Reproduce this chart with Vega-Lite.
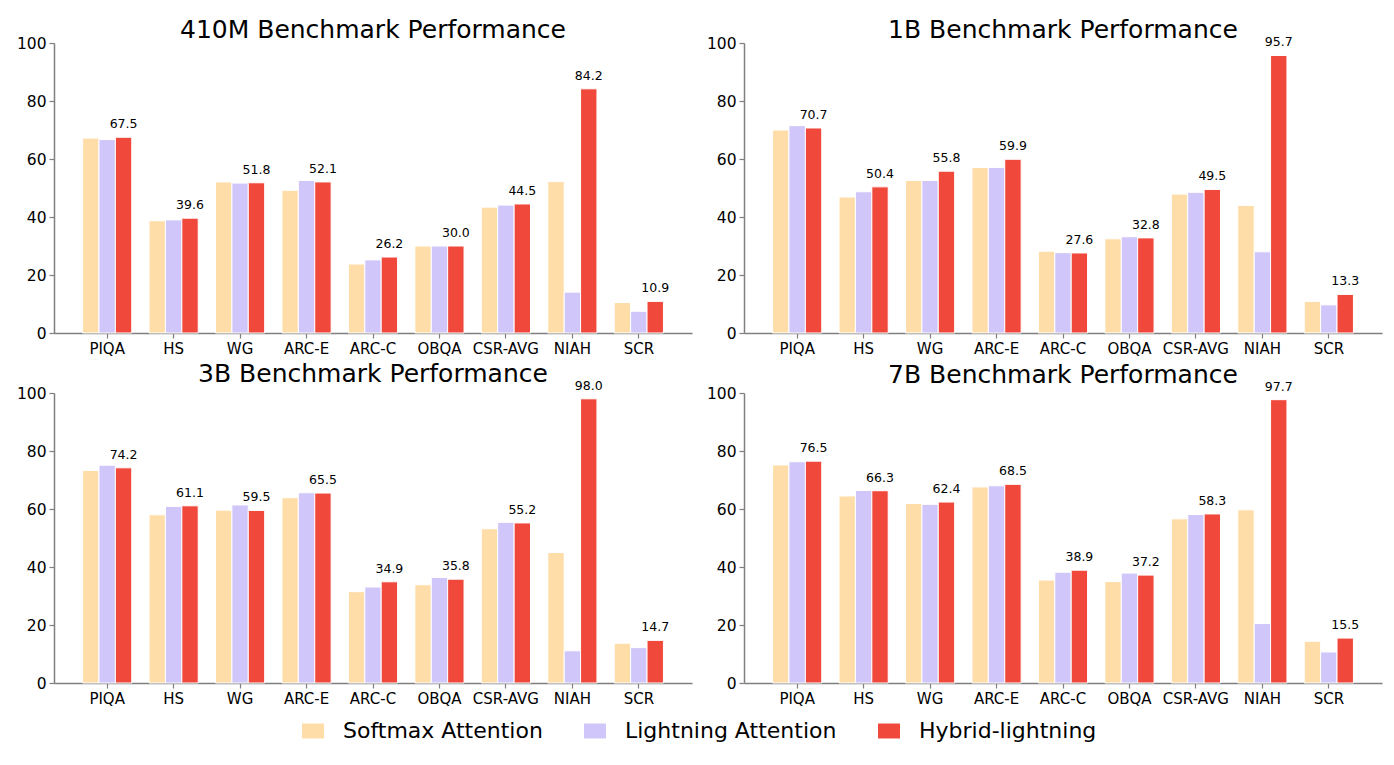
{
  "$schema": "https://vega.github.io/schema/vega-lite/v6.json",
  "background": "white",
  "padding": {"left": 16, "top": 18, "right": 10, "bottom": 10},
  "config": {
    "font": "DejaVu Sans",
    "view": {"stroke": null},
    "axis": {
      "grid": false,
      "title": null,
      "domainColor": "#7f7f7f",
      "domainWidth": 1.5,
      "tickColor": "#7f7f7f",
      "tickWidth": 1.2,
      "tickSize": 5,
      "labelColor": "black",
      "labelPadding": 3
    }
  },
  "data": {
    "values": [
      {"model": "410M", "bench": "PIQA", "series": "Softmax Attention", "value": 67.2},
      {"model": "410M", "bench": "PIQA", "series": "Lightning Attention", "value": 66.7},
      {"model": "410M", "bench": "PIQA", "series": "Hybrid-lightning", "value": 67.5},
      {"model": "410M", "bench": "HS", "series": "Softmax Attention", "value": 38.7},
      {"model": "410M", "bench": "HS", "series": "Lightning Attention", "value": 39.0},
      {"model": "410M", "bench": "HS", "series": "Hybrid-lightning", "value": 39.6},
      {"model": "410M", "bench": "WG", "series": "Softmax Attention", "value": 52.1},
      {"model": "410M", "bench": "WG", "series": "Lightning Attention", "value": 51.7},
      {"model": "410M", "bench": "WG", "series": "Hybrid-lightning", "value": 51.8},
      {"model": "410M", "bench": "ARC-E", "series": "Softmax Attention", "value": 49.2},
      {"model": "410M", "bench": "ARC-E", "series": "Lightning Attention", "value": 52.6},
      {"model": "410M", "bench": "ARC-E", "series": "Hybrid-lightning", "value": 52.1},
      {"model": "410M", "bench": "ARC-C", "series": "Softmax Attention", "value": 23.8},
      {"model": "410M", "bench": "ARC-C", "series": "Lightning Attention", "value": 25.2},
      {"model": "410M", "bench": "ARC-C", "series": "Hybrid-lightning", "value": 26.2},
      {"model": "410M", "bench": "OBQA", "series": "Softmax Attention", "value": 30.0},
      {"model": "410M", "bench": "OBQA", "series": "Lightning Attention", "value": 30.0},
      {"model": "410M", "bench": "OBQA", "series": "Hybrid-lightning", "value": 30.0},
      {"model": "410M", "bench": "CSR-AVG", "series": "Softmax Attention", "value": 43.4},
      {"model": "410M", "bench": "CSR-AVG", "series": "Lightning Attention", "value": 44.1},
      {"model": "410M", "bench": "CSR-AVG", "series": "Hybrid-lightning", "value": 44.5},
      {"model": "410M", "bench": "NIAH", "series": "Softmax Attention", "value": 52.2},
      {"model": "410M", "bench": "NIAH", "series": "Lightning Attention", "value": 14.1},
      {"model": "410M", "bench": "NIAH", "series": "Hybrid-lightning", "value": 84.2},
      {"model": "410M", "bench": "SCR", "series": "Softmax Attention", "value": 10.5},
      {"model": "410M", "bench": "SCR", "series": "Lightning Attention", "value": 7.5},
      {"model": "410M", "bench": "SCR", "series": "Hybrid-lightning", "value": 10.9},

      {"model": "1B", "bench": "PIQA", "series": "Softmax Attention", "value": 70.0},
      {"model": "1B", "bench": "PIQA", "series": "Lightning Attention", "value": 71.5},
      {"model": "1B", "bench": "PIQA", "series": "Hybrid-lightning", "value": 70.7},
      {"model": "1B", "bench": "HS", "series": "Softmax Attention", "value": 46.9},
      {"model": "1B", "bench": "HS", "series": "Lightning Attention", "value": 48.7},
      {"model": "1B", "bench": "HS", "series": "Hybrid-lightning", "value": 50.4},
      {"model": "1B", "bench": "WG", "series": "Softmax Attention", "value": 52.6},
      {"model": "1B", "bench": "WG", "series": "Lightning Attention", "value": 52.6},
      {"model": "1B", "bench": "WG", "series": "Hybrid-lightning", "value": 55.8},
      {"model": "1B", "bench": "ARC-E", "series": "Softmax Attention", "value": 57.1},
      {"model": "1B", "bench": "ARC-E", "series": "Lightning Attention", "value": 57.1},
      {"model": "1B", "bench": "ARC-E", "series": "Hybrid-lightning", "value": 59.9},
      {"model": "1B", "bench": "ARC-C", "series": "Softmax Attention", "value": 28.2},
      {"model": "1B", "bench": "ARC-C", "series": "Lightning Attention", "value": 27.7},
      {"model": "1B", "bench": "ARC-C", "series": "Hybrid-lightning", "value": 27.6},
      {"model": "1B", "bench": "OBQA", "series": "Softmax Attention", "value": 32.5},
      {"model": "1B", "bench": "OBQA", "series": "Lightning Attention", "value": 33.2},
      {"model": "1B", "bench": "OBQA", "series": "Hybrid-lightning", "value": 32.8},
      {"model": "1B", "bench": "CSR-AVG", "series": "Softmax Attention", "value": 47.9},
      {"model": "1B", "bench": "CSR-AVG", "series": "Lightning Attention", "value": 48.5},
      {"model": "1B", "bench": "CSR-AVG", "series": "Hybrid-lightning", "value": 49.5},
      {"model": "1B", "bench": "NIAH", "series": "Softmax Attention", "value": 44.0},
      {"model": "1B", "bench": "NIAH", "series": "Lightning Attention", "value": 28.0},
      {"model": "1B", "bench": "NIAH", "series": "Hybrid-lightning", "value": 95.7},
      {"model": "1B", "bench": "SCR", "series": "Softmax Attention", "value": 10.9},
      {"model": "1B", "bench": "SCR", "series": "Lightning Attention", "value": 9.7},
      {"model": "1B", "bench": "SCR", "series": "Hybrid-lightning", "value": 13.3},

      {"model": "3B", "bench": "PIQA", "series": "Softmax Attention", "value": 73.3},
      {"model": "3B", "bench": "PIQA", "series": "Lightning Attention", "value": 75.1},
      {"model": "3B", "bench": "PIQA", "series": "Hybrid-lightning", "value": 74.2},
      {"model": "3B", "bench": "HS", "series": "Softmax Attention", "value": 58.0},
      {"model": "3B", "bench": "HS", "series": "Lightning Attention", "value": 60.9},
      {"model": "3B", "bench": "HS", "series": "Hybrid-lightning", "value": 61.1},
      {"model": "3B", "bench": "WG", "series": "Softmax Attention", "value": 59.6},
      {"model": "3B", "bench": "WG", "series": "Lightning Attention", "value": 61.4},
      {"model": "3B", "bench": "WG", "series": "Hybrid-lightning", "value": 59.5},
      {"model": "3B", "bench": "ARC-E", "series": "Softmax Attention", "value": 63.9},
      {"model": "3B", "bench": "ARC-E", "series": "Lightning Attention", "value": 65.6},
      {"model": "3B", "bench": "ARC-E", "series": "Hybrid-lightning", "value": 65.5},
      {"model": "3B", "bench": "ARC-C", "series": "Softmax Attention", "value": 31.5},
      {"model": "3B", "bench": "ARC-C", "series": "Lightning Attention", "value": 33.1},
      {"model": "3B", "bench": "ARC-C", "series": "Hybrid-lightning", "value": 34.9},
      {"model": "3B", "bench": "OBQA", "series": "Softmax Attention", "value": 33.9},
      {"model": "3B", "bench": "OBQA", "series": "Lightning Attention", "value": 36.4},
      {"model": "3B", "bench": "OBQA", "series": "Hybrid-lightning", "value": 35.8},
      {"model": "3B", "bench": "CSR-AVG", "series": "Softmax Attention", "value": 53.2},
      {"model": "3B", "bench": "CSR-AVG", "series": "Lightning Attention", "value": 55.4},
      {"model": "3B", "bench": "CSR-AVG", "series": "Hybrid-lightning", "value": 55.2},
      {"model": "3B", "bench": "NIAH", "series": "Softmax Attention", "value": 45.0},
      {"model": "3B", "bench": "NIAH", "series": "Lightning Attention", "value": 11.1},
      {"model": "3B", "bench": "NIAH", "series": "Hybrid-lightning", "value": 98.0},
      {"model": "3B", "bench": "SCR", "series": "Softmax Attention", "value": 13.7},
      {"model": "3B", "bench": "SCR", "series": "Lightning Attention", "value": 12.2},
      {"model": "3B", "bench": "SCR", "series": "Hybrid-lightning", "value": 14.7},

      {"model": "7B", "bench": "PIQA", "series": "Softmax Attention", "value": 75.2},
      {"model": "7B", "bench": "PIQA", "series": "Lightning Attention", "value": 76.3},
      {"model": "7B", "bench": "PIQA", "series": "Hybrid-lightning", "value": 76.5},
      {"model": "7B", "bench": "HS", "series": "Softmax Attention", "value": 64.5},
      {"model": "7B", "bench": "HS", "series": "Lightning Attention", "value": 66.4},
      {"model": "7B", "bench": "HS", "series": "Hybrid-lightning", "value": 66.3},
      {"model": "7B", "bench": "WG", "series": "Softmax Attention", "value": 61.9},
      {"model": "7B", "bench": "WG", "series": "Lightning Attention", "value": 61.6},
      {"model": "7B", "bench": "WG", "series": "Hybrid-lightning", "value": 62.4},
      {"model": "7B", "bench": "ARC-E", "series": "Softmax Attention", "value": 67.6},
      {"model": "7B", "bench": "ARC-E", "series": "Lightning Attention", "value": 68.0},
      {"model": "7B", "bench": "ARC-E", "series": "Hybrid-lightning", "value": 68.5},
      {"model": "7B", "bench": "ARC-C", "series": "Softmax Attention", "value": 35.5},
      {"model": "7B", "bench": "ARC-C", "series": "Lightning Attention", "value": 38.2},
      {"model": "7B", "bench": "ARC-C", "series": "Hybrid-lightning", "value": 38.9},
      {"model": "7B", "bench": "OBQA", "series": "Softmax Attention", "value": 35.0},
      {"model": "7B", "bench": "OBQA", "series": "Lightning Attention", "value": 37.9},
      {"model": "7B", "bench": "OBQA", "series": "Hybrid-lightning", "value": 37.2},
      {"model": "7B", "bench": "CSR-AVG", "series": "Softmax Attention", "value": 56.6},
      {"model": "7B", "bench": "CSR-AVG", "series": "Lightning Attention", "value": 58.1},
      {"model": "7B", "bench": "CSR-AVG", "series": "Hybrid-lightning", "value": 58.3},
      {"model": "7B", "bench": "NIAH", "series": "Softmax Attention", "value": 59.7},
      {"model": "7B", "bench": "NIAH", "series": "Lightning Attention", "value": 20.5},
      {"model": "7B", "bench": "NIAH", "series": "Hybrid-lightning", "value": 97.7},
      {"model": "7B", "bench": "SCR", "series": "Softmax Attention", "value": 14.4},
      {"model": "7B", "bench": "SCR", "series": "Lightning Attention", "value": 10.7},
      {"model": "7B", "bench": "SCR", "series": "Hybrid-lightning", "value": 15.5}
    ]
  },
  "facet": {
    "field": "model",
    "type": "nominal",
    "sort": ["410M", "1B", "3B", "7B"],
    "header": {
      "title": null,
      "labelExpr": "datum.value + ' Benchmark Performance'",
      "labelFontSize": 25,
      "labelColor": "black",
      "labelPadding": -7
    }
  },
  "columns": 2,
  "spacing": {"row": 5, "column": 14},
  "resolve": {"axis": {"x": "independent", "y": "independent"}},
  "spec": {
    "width": 638,
    "height": 290,
    "encoding": {
      "x": {
        "field": "bench",
        "type": "nominal",
        "sort": ["PIQA", "HS", "WG", "ARC-E", "ARC-C", "OBQA", "CSR-AVG", "NIAH", "SCR"],
        "scale": {"paddingInner": 0.26, "paddingOuter": 0.43},
        "axis": {"labelAngle": 0, "labelFontSize": 15}
      },
      "xOffset": {
        "field": "series",
        "type": "nominal",
        "sort": ["Softmax Attention", "Lightning Attention", "Hybrid-lightning"],
        "scale": {"paddingInner": 0}
      },
      "y": {
        "field": "value",
        "type": "quantitative",
        "scale": {"domain": [0, 100], "nice": false},
        "axis": {"values": [0, 20, 40, 60, 80, 100], "labelFontSize": 15.5}
      }
    },
    "layer": [
      {
        "mark": {"type": "bar", "stroke": "white", "strokeWidth": 1},
        "encoding": {
          "color": {
            "field": "series",
            "type": "nominal",
            "sort": ["Softmax Attention", "Lightning Attention", "Hybrid-lightning"],
            "scale": {
              "domain": ["Softmax Attention", "Lightning Attention", "Hybrid-lightning"],
              "range": ["#FEDDA8", "#D0C6F9", "#F0493C"]
            },
            "legend": {
              "title": null,
              "orient": "none",
              "legendX": 248,
              "legendY": 677,
              "direction": "horizontal",
              "symbolType": "M-1,-0.68H1V0.68H-1Z",
              "symbolSize": 484,
              "symbolStrokeWidth": 0,
              "symbolOpacity": 1,
              "labelFontSize": 22,
              "labelLimit": 0,
              "labelColor": "black",
              "labelOffset": 19,
              "columnPadding": 41
            }
          }
        }
      },
      {
        "transform": [{"filter": "datum.series == 'Hybrid-lightning'"}],
        "mark": {"type": "text", "baseline": "bottom", "dy": -6, "fontSize": 12.5, "color": "black"},
        "encoding": {
          "text": {"field": "value", "type": "quantitative", "format": ".1f"}
        }
      }
    ]
  }
}
